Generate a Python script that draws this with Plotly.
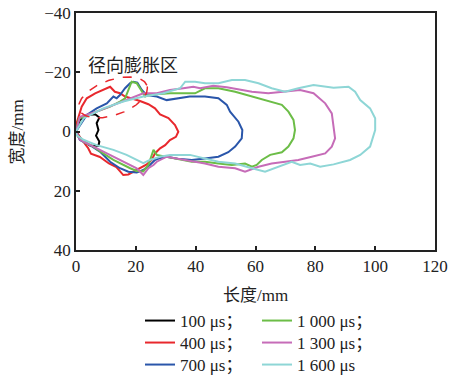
import numpy as np
import plotly.graph_objects as go

# ---------------- data (mm) ----------------
labels = ["100 μs；", "400 μs；", "700 μs；", "1 000 μs；", "1 300 μs；", "1 600 μs"]
colors = ["#000000", "#e8282d", "#2a56aa", "#6cbd47", "#c66cb8", "#8ed6d6"]

x_100 = [0, 1.3, 3.6, 6.4, 7.8, 6.9, 7.5, 6.7, 7.8, 7.5, 4.7, 1.9, 0]
y_100 = [0, -3.9, -5.6, -5.8, -4.7, -2.8, -0.5, 1.4, 3.4, 4.8, 4.7, 2.9, 0]

x_400 = [0, 0.2, 1.9, 3.6, 6.4, 9.1, 11.4, 13.0, 14.7, 16.4, 18.6, 21.4, 24.2, 26.4, 28.1, 30.9, 33.1, 34.2,
         33.4, 31.4, 29.8, 28.1, 26.4, 25.3, 23.5, 21.5, 19.5, 17.5, 15.8, 13.5, 11.0, 8.0, 5.0, 4.0, 2.5, 1.0, 0]
y_400 = [0, -2.8, -8.4, -11.2, -12.9, -14.0, -15.1, -13.4, -12.9, -11.8, -11.2, -10.3, -9.2, -7.8, -5.8, -4.5, -2.2, 0.1,
         1.8, 2.9, 4.6, 5.7, 7.4, 9.6, 11.2, 12.3, 13.5, 14.5, 14.7, 12.0, 10.8, 8.6, 7.5, 5.5, 3.5, 1.5, 0]

x_700 = [0, 3.6, 6.9, 10.3, 12.5, 13.6, 14.7, 16.4, 18.1, 19.2, 20.5, 22.0, 23.6, 27.0, 30.3, 34.8, 38.0, 43.1, 47.6,
         50.4, 51.5, 54.3, 55.6, 55.4, 53.2, 50.9, 47.6, 43.1, 38.7, 34.0, 30.3, 28.1, 26.4, 24.7, 22.5, 20.3, 17.5,
         14.7, 11.4, 8.0, 4.7, 1.3, 0]
y_700 = [0, -5.6, -7.8, -9.5, -11.8, -11.2, -12.3, -14.6, -16.3, -16.8, -16.5, -14.0, -12.3, -11.8, -10.6, -11.2, -11.8,
         -11.8, -11.2, -9.0, -6.7, -3.3, -0.5, 2.3, 5.1, 7.0, 8.5, 9.1, 9.6, 9.2, 8.5, 9.0, 9.6, 11.3, 13.0, 13.8, 13.6,
         12.4, 10.2, 6.8, 4.6, 2.9, 0]

x_1000 = [0, 1.0, 6.9, 11.4, 14.7, 16.4, 17.5, 18.6, 20.3, 22.0, 23.1, 24.7, 31.4, 38.1, 39.8, 43.1, 47.6, 53.2, 58.8,
          64.3, 68.8, 71.0, 72.7, 73.2, 72.7, 71.0, 68.8, 64.9, 62.1, 60.4, 58.8, 56.5, 52.1, 47.6, 43.1, 38.7, 30.3,
          27.0, 25.9, 25.3, 24.2, 22.5, 20.3, 18.1, 15.8, 12.5, 9.1, 5.8, 2.5, 0.2, 0]
y_1000 = [0, -4.4, -6.7, -8.4, -10.1, -11.2, -14.0, -16.8, -16.3, -13.4, -11.8, -12.4, -12.9, -12.9, -12.9, -14.6,
          -14.6, -13.4, -11.8, -10.1, -9.0, -6.7, -3.9, -0.5, 2.3, 5.1, 7.0, 7.9, 9.6, 11.3, 11.9, 10.8, 11.3, 10.8,
          10.2, 10.2, 8.5, 7.9, 6.2, 7.9, 11.3, 13.5, 13.3, 12.4, 11.3, 9.6, 7.4, 5.1, 3.4, 1.2, 0]

x_1300 = [0, 1.3, 6.9, 12.5, 15.8, 18.6, 20.3, 22.5, 27.0, 31.4, 35.9, 39.2, 41.5, 45.9, 50.4, 54.8, 58.8, 64.3,
          69.9, 74.9, 79.4, 83.3, 85.5, 86.1, 86.6, 85.5, 83.3, 78.8, 74.3, 69.9, 65.4, 61.0, 56.5, 53.2, 47.6, 43.1,
          37.0, 30.3, 27.0, 25.9, 24.2, 22.5, 20.3, 18.1, 14.7, 10.3, 5.8, 1.3, 0]
y_1300 = [0, -5.0, -6.7, -8.9, -10.1, -11.2, -11.8, -12.9, -12.9, -14.0, -14.6, -15.1, -14.6, -15.4, -14.9, -14.0,
          -13.4, -12.9, -13.4, -14.0, -12.9, -9.5, -6.1, -2.2, 2.3, 5.1, 7.4, 8.5, 9.6, 10.2, 10.8, 11.9, 13.6, 12.4,
          11.9, 10.8, 9.6, 8.5, 10.2, 11.3, 12.4, 14.7, 12.4, 11.3, 9.6, 7.4, 5.1, 2.8, 0]

x_1600 = [0, 2.5, 9.1, 15.8, 22.5, 29.2, 34.8, 36.5, 39.8, 43.1, 47.6, 52.1, 56.5, 61.0, 65.4, 69.9, 74.3, 79.4,
          86.1, 91.1, 93.3, 95.0, 98.3, 100.0, 100.0, 99.2, 98.3, 95.0, 91.6, 86.1, 81.6, 78.3, 74.9, 72.1, 67.7, 63.2,
          58.8, 53.2, 47.6, 43.1, 38.1, 31.4, 28.1, 24.7, 22.5, 20.3, 16.9, 12.5, 6.9, 2.5, 0.2, 0]
y_1600 = [0, -4.4, -7.8, -10.1, -11.8, -12.9, -14.6, -16.8, -16.8, -16.3, -16.3, -17.4, -17.4, -16.3, -14.6, -13.4,
          -14.6, -15.7, -14.8, -15.1, -13.4, -10.6, -7.8, -4.5, -0.5, 2.3, 5.1, 7.9, 9.6, 11.1, 11.9, 10.8, 11.3, 10.2,
          11.9, 13.6, 12.4, 10.8, 10.2, 9.1, 7.9, 7.9, 8.5, 9.6, 10.7, 9.6, 7.9, 6.2, 4.6, 2.8, 1.2, 0]

xs = [x_100, x_400, x_700, x_1000, x_1300, x_1600]
ys = [y_100, y_400, y_700, y_1000, y_1300, y_1600]

x_ticks = [0, 20, 40, 60, 80, 100, 120]
y_ticks = [-40, -20, 0, 20, 40]

# annotation ellipse parameters (mm)
ell_cx, ell_cy, ell_a, ell_b, ell_deg = 12.4, -11.5, 12.0, 5.9, 20

SERIF = "Liberation Serif, Noto Sans CJK SC"
FS = 17
W, H = 449, 379

# legend layout: two columns of three rows (container pixel positions)
leg_col_px = [140, 257]
leg_row_px = [303, 325, 347]

fig = go.Figure()
leg_names = ["legend"] + [f"legend{k}" for k in range(2, 7)]
for i, (x, y) in enumerate(zip(xs, ys)):
    fig.add_trace(go.Scatter(
        x=x, y=y, mode="lines", name=labels[i],
        line=dict(color=colors[i], width=2),
        legend=leg_names[i],
    ))

# dashed ellipse around the radial expansion zone
t = np.linspace(0, 2 * np.pi, 120)
th = np.deg2rad(ell_deg)
ex = ell_cx + ell_a * np.cos(t) * np.cos(th) - ell_b * np.sin(t) * np.sin(th)
ey = ell_cy - (ell_a * np.cos(t) * np.sin(th) + ell_b * np.sin(t) * np.cos(th))
fig.add_trace(go.Scatter(x=ex, y=ey, mode="lines", showlegend=False,
                         line=dict(color="#e8282d", width=1.5, dash="dash"), hoverinfo="skip"))

fig.add_annotation(x=19.1, y=-22.8, text="径向膨胀区", showarrow=False,
                   font=dict(family="Noto Sans CJK SC", size=18, color="#222"))

# axis titles
fig.add_annotation(xref="paper", yref="paper", x=0.5, y=-0.19, xanchor="center", yanchor="middle",
                   text="长度/mm", showarrow=False, font=dict(family=SERIF, size=FS, color="#222"))
fig.add_annotation(xref="paper", yref="paper", x=-0.1616, y=0.5, xanchor="center", yanchor="middle",
                   textangle=-90, text="宽度/mm", showarrow=False,
                   font=dict(family=SERIF, size=FS, color="#222"))

axis_common = dict(
    showline=True, linecolor="#222", linewidth=1.5, mirror=True,
    ticks="inside", ticklen=4, tickwidth=1.5, tickcolor="#222",
    showgrid=False, zeroline=False, automargin=False,
    tickfont=dict(family=SERIF, size=FS, color="#222"),
)
fig.update_xaxes(range=[0, 120], tickvals=x_ticks, **axis_common)
fig.update_yaxes(range=[40, -40], tickvals=y_ticks, **axis_common)

leg_layout = {}
for i, name in enumerate(leg_names):
    col, row = divmod(i, 3)
    leg_layout[name] = dict(
        x=leg_col_px[col] / W, y=1 - leg_row_px[row] / H,
        xref="container", yref="container", xanchor="left", yanchor="top",
        font=dict(family=SERIF, size=FS, color="#222"),
        bgcolor="rgba(0,0,0,0)",
    )

fig.update_layout(
    width=W, height=H,
    margin=dict(l=76, r=14, t=13, b=129, autoexpand=False),
    plot_bgcolor="white", paper_bgcolor="white",
    **leg_layout,
)

fig.write_html("out.html")
